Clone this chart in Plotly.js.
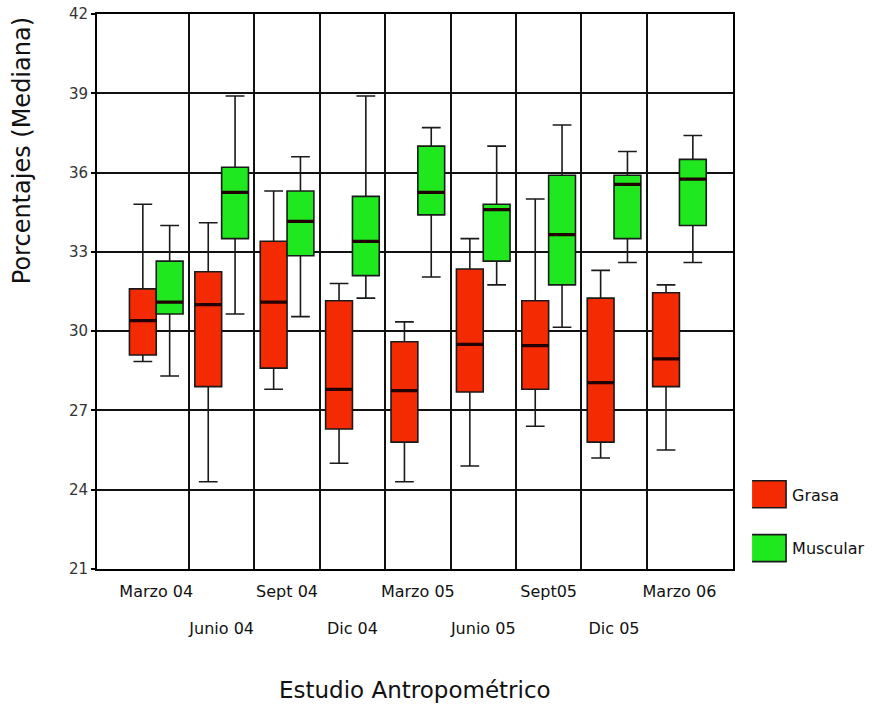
<!DOCTYPE html>
<html>
<head>
<meta charset="utf-8">
<script src="https://cdn.plot.ly/plotly-3.0.1.min.js"></script>
<style>html,body{margin:0;padding:0;background:#fff;}</style>
</head>
<body>
<div id="chart" style="width:882px;height:706px;"></div>
<script>
// ---- data ----
const categories = ['Marzo 04','Junio 04','Sept 04','Dic 04','Marzo 05','Junio 05','Sept05','Dic 05','Marzo 06'];

const grasaLower  = [28.85, 24.3, 27.8, 25.0, 24.3, 24.9, 26.4, 25.2, 25.5];
const grasaQ1     = [29.1, 27.9, 28.6, 26.3, 25.8, 27.7, 27.8, 25.8, 27.9];
const grasaMedian = [30.4, 31.0, 31.1, 27.8, 27.75, 29.5, 29.45, 28.05, 28.95];
const grasaQ3     = [31.6, 32.25, 33.4, 31.15, 29.6, 32.35, 31.15, 31.25, 31.45];
const grasaUpper  = [34.8, 34.1, 35.3, 31.8, 30.35, 33.5, 35.0, 32.3, 31.75];

const muscLower  = [28.3, 30.65, 30.55, 31.25, 32.05, 31.75, 30.15, 32.6, 32.6];
const muscQ1     = [30.65, 33.5, 32.85, 32.1, 34.4, 32.65, 31.75, 33.5, 34.0];
const muscMedian = [31.1, 35.25, 34.15, 33.4, 35.25, 34.6, 33.65, 35.55, 35.75];
const muscQ3     = [32.65, 36.2, 35.3, 35.1, 37.0, 34.8, 35.9, 35.9, 36.5];
const muscUpper  = [34.0, 38.9, 36.6, 38.9, 37.7, 37.0, 37.8, 36.8, 37.4];

const yTicks = [21, 24, 27, 30, 33, 36, 39, 42];

// ---- derived positions ----
const pos = categories.map((c, i) => i);
const boundaries = categories.slice(1).map((c, i) => i + 0.5);
const evenIdx = pos.filter(i => i % 2 === 0);
const oddIdx = pos.filter(i => i % 2 === 1);
const xRange = [-0.906, 8.819];

const RED = '#f42a02';
const GREEN = '#1fe81f';
const FONT = 'DejaVu Sans, Liberation Sans, Arial, sans-serif';

function boxTrace(name, color, q1, med, q3, lo, hi, group) {
  return {
    type: 'box', name: name, x: pos, q1: q1, median: med, q3: q3,
    lowerfence: lo, upperfence: hi,
    offsetgroup: group, legendgroup: group,
    fillcolor: color, line: {color: '#1a1a1a', width: 1.6},
    whiskerwidth: 0.7, boxpoints: false, hoverinfo: 'skip'
  };
}
function medianTrace(med, group) {
  return {
    type: 'box', x: pos, q1: med, median: med, q3: med,
    lowerfence: med, upperfence: med,
    offsetgroup: group, showlegend: false,
    fillcolor: 'rgba(0,0,0,0)', line: {color: '#220000', width: 3.2},
    whiskerwidth: 0, boxpoints: false, hoverinfo: 'skip'
  };
}

const data = [
  boxTrace('Grasa', RED, grasaQ1, grasaMedian, grasaQ3, grasaLower, grasaUpper, 'g'),
  boxTrace('Muscular', GREEN, muscQ1, muscMedian, muscQ3, muscLower, muscUpper, 'm'),
  medianTrace(grasaMedian, 'g'),
  medianTrace(muscMedian, 'm'),
  {type: 'scatter', x: [], y: [], xaxis: 'x2', showlegend: false, hoverinfo: 'skip'},
  {type: 'scatter', x: [], y: [], xaxis: 'x3', showlegend: false, hoverinfo: 'skip'}
];

const labelAxis = (idx, standoff) => ({
  overlaying: 'x', anchor: 'y', side: 'bottom', type: 'linear', range: xRange,
  tickmode: 'array', tickvals: idx, ticktext: idx.map(i => categories[i]),
  showgrid: false, showline: false, zeroline: false, ticks: '',
  ticklabelstandoff: standoff,
  tickfont: {family: FONT, size: 16, color: '#111'}
});

const layout = {
  width: 882, height: 706,
  margin: {l: 97, r: 149, t: 14, b: 137},
  paper_bgcolor: '#fff', plot_bgcolor: '#fff',
  boxmode: 'group', boxgap: 0.18, boxgroupgap: 0,
  showlegend: true,
  legend: {
    x: 1.03, xanchor: 'left', y: 0.165, yanchor: 'top',
    traceorder: 'grouped', tracegroupgap: 30,
    font: {family: FONT, size: 16, color: '#111'},
    bgcolor: 'rgba(0,0,0,0)'
  },
  xaxis: {
    type: 'linear', range: xRange,
    tickmode: 'array', tickvals: boundaries, showticklabels: false,
    showgrid: true, gridcolor: '#111', gridwidth: 2,
    showline: true, linecolor: '#000', linewidth: 2, mirror: true,
    zeroline: false, ticks: ''
  },
  xaxis2: labelAxis(evenIdx, 11),
  xaxis3: labelAxis(oddIdx, 48),
  yaxis: {
    range: [21, 42], tickmode: 'array', tickvals: yTicks,
    showgrid: true, gridcolor: '#111', gridwidth: 2,
    showline: true, linecolor: '#000', linewidth: 2, mirror: true,
    zeroline: false, ticks: 'outside', ticklen: 4, tickcolor: '#000', tickwidth: 2,
    tickfont: {family: FONT, size: 15, color: '#333'}
  },
  annotations: [
    {text: 'Porcentajes (Mediana)', xref: 'paper', yref: 'paper', x: -0.118, y: 0.7545,
     xanchor: 'center', yanchor: 'middle', textangle: -90, showarrow: false,
     font: {family: FONT, size: 24, color: '#111'}},
    {text: 'Estudio Antropométrico', xref: 'paper', yref: 'paper', x: 0.5, y: -0.2184,
     xanchor: 'center', yanchor: 'middle', showarrow: false,
     font: {family: FONT, size: 23, color: '#111'}}
  ]
};

Plotly.newPlot('chart', data, layout, {staticPlot: true, displayModeBar: false}).then(gd => {
  gd.querySelectorAll('.legend .legendpoints path').forEach(p => {
    p.setAttribute('transform', 'translate(14,0) scale(3.33,2.25)');
    p.style.vectorEffect = 'non-scaling-stroke';
  });
});
</script>
</body>
</html>
